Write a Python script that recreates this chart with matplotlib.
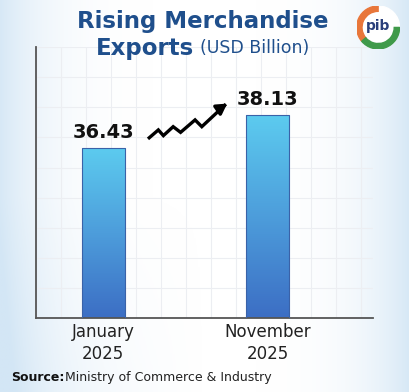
import numpy as np
import matplotlib.pyplot as plt
from matplotlib.colors import LinearSegmentedColormap
from matplotlib.patches import Circle, Wedge

months = ['January\n2025', 'November\n2025']
exports = [36.43, 38.13]
value_labels = ['36.43', '38.13']

fig = plt.figure(figsize=(4.09, 3.92), dpi=100)

# background: white centre, pale blue towards the sides
bg = fig.add_axes([0, 0, 1, 1], zorder=-5)
gx = np.linspace(-1, 1, 300)
gy = np.linspace(-1, 1, 300)
X, Y = np.meshgrid(gx, gy)
R = np.abs(X) ** 4 * 0.9 + np.clip(-X, 0, 1) * np.clip(-Y, 0, 1) * 0.35
R = np.clip(R, 0, 1)
bg_cmap = LinearSegmentedColormap.from_list('bg', ['#ffffff', '#d3e6f5'])
bg.imshow(R, cmap=bg_cmap, extent=[0, 1, 0, 1], aspect='auto', origin='lower', vmin=0, vmax=1)
bg.set_xlim(0, 1)
bg.set_ylim(0, 1)
bg.axis('off')

ax = fig.add_axes([0.088, 0.189, 0.824, 0.691])
ax.set_facecolor('none')
x = np.arange(len(months))
bars = ax.bar(x, exports, width=0.262, color='none', edgecolor='#3a62a8', linewidth=0.8, zorder=3)
ylo, yhi = 27.67, 41.63

# vertical gradient inside bars
grad = np.linspace(0, 1, 256).reshape(-1, 1)
bar_cmap = LinearSegmentedColormap.from_list('bar', ['#3c6ec4', '#4d9ddb', '#5ccbef'])
for b in bars:
    bx = b.get_x()
    im = ax.imshow(grad, cmap=bar_cmap, origin='lower', aspect='auto',
                   extent=[bx, bx + b.get_width(), ylo, b.get_height()], zorder=2)
    im.set_clip_path(b)
ax.set_xlim(-0.41, 1.643)
ax.set_ylim(ylo, yhi)

for xi, v, lab in zip(x, exports, value_labels):
    ax.annotate(lab, (xi, v), xytext=(0, 4.5), textcoords='offset points', ha='center', va='bottom',
                fontsize=14, fontweight='bold', color='#111111')

# faint grid
ax.set_xticks(np.arange(-0.41, 1.643, 0.1525), minor=True)
ax.set_yticks(np.arange(ylo, yhi, 1.55), minor=True)
ax.grid(which='minor', color='#eceef2', linewidth=0.8, zorder=0)
ax.tick_params(which='minor', length=0)

ax.set_xticks(x)
ax.set_xticklabels(months, fontsize=12, color='#222222', linespacing=1.25)
ax.tick_params(axis='x', length=0, pad=4)
ax.set_yticks([])
for s in ['top', 'right']:
    ax.spines[s].set_visible(False)
for s in ['left', 'bottom']:
    ax.spines[s].set_color('#555555')
    ax.spines[s].set_linewidth(1.3)

# zigzag trend arrow
zx = [0.336, 0.363, 0.378, 0.407, 0.429, 0.472, 0.492, 0.560]
zy = [0.665, 0.694, 0.673, 0.706, 0.685, 0.731, 0.706, 0.785]
ax.plot(zx, zy, color='black', lw=2.4, transform=ax.transAxes, solid_joinstyle='miter', zorder=4)
ax.annotate('', xy=(0.574, 0.797), xytext=(0.54, 0.768), xycoords='axes fraction',
            arrowprops=dict(arrowstyle='-|>,head_length=0.6,head_width=0.35', color='black', lw=2.4))

# title
fig.text(0.495, 0.975, 'Rising Merchandise', ha='center', va='top', fontsize=16.5,
         fontweight='bold', color='#1f4f8c')
fig.text(0.235, 0.905, 'Exports', ha='left', va='top', fontsize=16.5, fontweight='bold', color='#1f4f8c')
fig.text(0.49, 0.9, '(USD Billion)', ha='left', va='top', fontsize=12.5, color='#1f4f8c')

# source
fig.text(0.028, 0.02, 'Source:', ha='left', va='bottom', fontsize=9, fontweight='bold', color='#111111')
fig.text(0.158, 0.02, 'Ministry of Commerce & Industry', ha='left', va='bottom', fontsize=9, color='#222222')

# pib badge
lg = fig.add_axes([0.872, 0.875, 0.105, 0.11])
lg.set_xlim(-1, 1)
lg.set_ylim(-1, 1)
lg.set_aspect('equal')
lg.axis('off')
lg.add_patch(Circle((0, 0), 1, color='white', zorder=1))
lg.add_patch(Wedge((0, 0), 1, 90, 220, width=0.25, color='#e8763a', zorder=2))
lg.add_patch(Wedge((0, 0), 1, 220, 360, width=0.25, color='#3f9a4a', zorder=2))
lg.text(0, 0.05, 'pib', ha='center', va='center', fontsize=10, fontweight='bold', color='#2a3f7a', zorder=3)

fig.savefig('out.png', dpi=100)
